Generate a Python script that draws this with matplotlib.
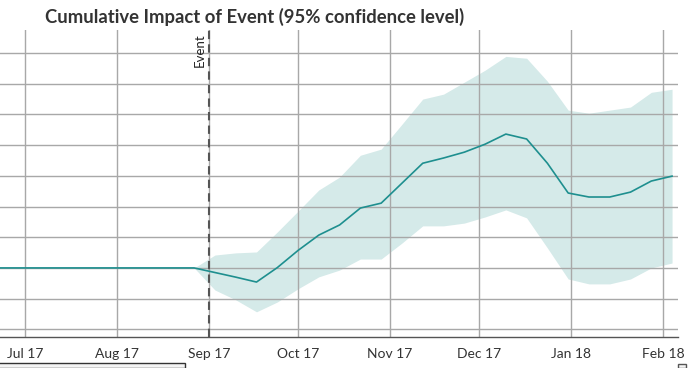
import matplotlib
matplotlib.use("Agg")
import matplotlib.pyplot as plt
import numpy as np
import pandas as pd
from matplotlib.patches import Rectangle

plt.rcParams['font.family'] = ['Lato', 'DejaVu Sans']

dates = pd.date_range("2017-06-18", "2018-02-04", freq="7D")
impact = [0, 0, 0, 0, 0, 0, 0, 0, 0, 0, 0,
          -0.15, -0.30, -0.46, 0.01, 0.57, 1.07, 1.40, 1.95, 2.11, 2.76,
          3.41, 3.58, 3.77, 4.03, 4.36, 4.20, 3.41, 2.44, 2.31, 2.31,
          2.47, 2.83, 2.99]
upper = [0, 0, 0, 0, 0, 0, 0, 0, 0, 0, 0,
         0.42, 0.49, 0.52, 1.17, 1.85, 2.54, 2.96, 3.67, 3.87, 4.68,
         5.50, 5.66, 6.05, 6.44, 6.89, 6.83, 6.08, 5.14, 5.04, 5.14,
         5.24, 5.72, 5.82]
lower = [0, 0, 0, 0, 0, 0, 0, 0, 0, 0, 0,
         -0.72, -1.04, -1.43, -1.11, -0.68, -0.29, -0.07, 0.29, 0.29, 0.81,
         1.37, 1.37, 1.46, 1.66, 1.89, 1.63, 0.65, -0.36, -0.52, -0.52,
         -0.36, 0.00, 0.16]
month_ticks = ["2017-07-01", "2017-08-01", "2017-09-01", "2017-10-01",
               "2017-11-01", "2017-12-01", "2018-01-01", "2018-02-01"]
month_labels = ["Jul 17", "Aug 17", "Sep 17", "Oct 17", "Nov 17",
                "Dec 17", "Jan 18", "Feb 18"]
event_date = "2017-09-01"

W, H = 691, 368
fig = plt.figure(figsize=(W / 100, H / 100), dpi=100)
# axes in pixel coordinates: left -13.6, right 678, top 30, bottom 337
left, right, top, bottom = -13.6, 678, 30, 337
ax = fig.add_axes([left / W, 1 - bottom / H, (right - left) / W, (bottom - top) / H])

band_color = "#d5eae9"
line_color = "#1e8f8f"
ax.fill_between(dates, lower, upper, color=band_color, lw=0, zorder=1)
ax.plot(dates, impact, color=line_color, lw=1.2, zorder=3)

ax.set_xlim(pd.Timestamp("2017-06-18"), pd.Timestamp("2018-02-06"))
ax.set_ylim(-2.25, 7.75)
ax.set_yticks(np.arange(-2, 8, 1))
ax.set_xticks(pd.to_datetime(month_ticks))
ax.set_xticklabels(month_labels)
ax.grid(True, color="#a8a8a8", lw=1, zorder=2)
for l in ax.get_xgridlines() + ax.get_ygridlines():
    l.set_zorder(2)
ax.tick_params(axis="x", length=0, pad=8, labelsize=10, labelcolor="#333333")
ax.tick_params(axis="y", length=0, labelleft=False)
for s in ["top", "right", "left"]:
    ax.spines[s].set_visible(False)
ax.spines["bottom"].set_color("#555555")
ax.spines["bottom"].set_linewidth(1)

ev = pd.Timestamp(event_date)
ax.axvline(ev, color="#555555", lw=1.5, ls=(0, (4, 2.5)), zorder=4)
ax.text(ev - pd.Timedelta(days=1.2), 7.65, "Event", rotation=90, ha="right", va="top",
        fontsize=9.5, color="#222222", zorder=5)

fig.text(45 / W, 1 - 17 / H, "Cumulative Impact of Event (95% confidence level)",
         ha="left", va="center", fontsize=13.3, fontweight="bold", color="#333333")

# partially visible legend box and control at bottom
fig.patches.append(Rectangle((-5 / W, 0), 190 / W, (H - 363) / H, transform=fig.transFigure,
                             facecolor="#f4f4f4", edgecolor="#333333", lw=1, figure=fig))
fig.patches.append(Rectangle((678 / W, 0), 8 / W, (H - 364) / H, transform=fig.transFigure,
                             facecolor="#f4f4f4", edgecolor="#555555", lw=1, figure=fig))

fig.savefig("out.png", dpi=100)
